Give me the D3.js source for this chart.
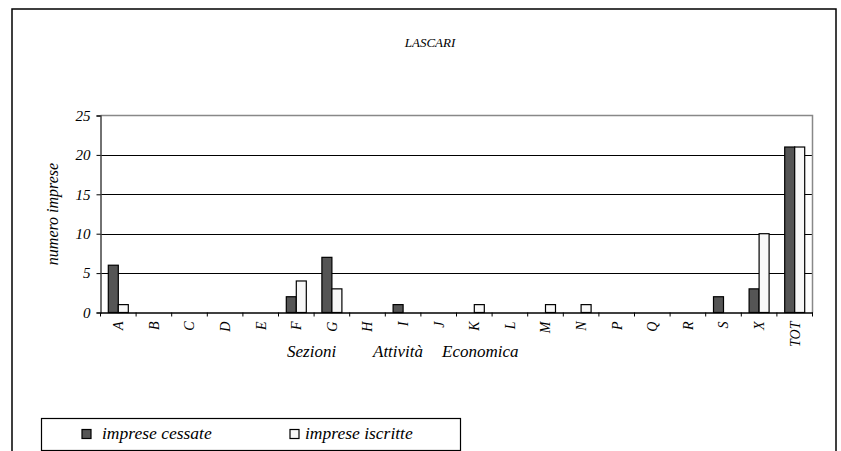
<!DOCTYPE html>
<html><head><meta charset="utf-8">
<script src="https://cdn.jsdelivr.net/npm/d3@7"></script>
<style>body{margin:0;background:#fff}svg{display:block}svg text{font-family:'Liberation Serif','Times New Roman',Times,serif;font-style:italic}</style>
</head><body><svg id="c" width="841" height="451"></svg>
<script>
const categories = ["A","B","C","D","E","F","G","H","I","J","K","L","M","N","P","Q","R","S","X","TOT"];
const cessate  = [6,0,0,0,0,2,7,0,1,0,0,0,0,0,0,0,0,2,3,21];
const iscritte = [1,0,0,0,0,4,3,0,0,0,1,0,1,1,0,0,0,0,10,21];
const seriesNames = ["imprese cessate","imprese iscritte"];
const seriesColors = ["#555555","#f8f8f8"];
const yTicks = [0,5,10,15,20,25];
const title = "LASCARI";
const yTitle = "numero imprese";
const xTitleParts = ["Sezioni","Attività","Economica"];

const FF = "'Liberation Serif','Times New Roman',serif";
const svg = d3.select("#c");
// outer frame
svg.append("rect").attr("x",12).attr("y",9).attr("width",824).attr("height",460)
  .attr("fill","none").attr("stroke","#000").attr("stroke-width",1.5);

const L=100.5, R=812.5, T=115.5, B=312.5;
const x = d3.scaleBand().domain(categories).range([L,R]).padding(0);
const xs = d3.scaleBand().domain(seriesNames).range([0,x.bandwidth()]).paddingInner(0).paddingOuter(0.78);
const y = d3.scaleLinear().domain([0,25]).range([B,T]);

// gridlines
svg.append("g").selectAll("line").data(yTicks.filter(t=>t>0&&t<25)).join("line")
  .attr("x1",L).attr("x2",R).attr("y1",d=>Math.round(y(d))+0.5).attr("y2",d=>Math.round(y(d))+0.5)
  .attr("stroke","#000").attr("stroke-width",1);
// plot top/right border
svg.append("path").attr("d",`M${L},${T}H${R}V${B}`).attr("fill","none").attr("stroke","#888").attr("stroke-width",1.5);

// bars
const data = categories.map((c,i)=>({c, vals:[cessate[i],iscritte[i]]}));
const g = svg.append("g");
data.forEach(d=>{
  d.vals.forEach((v,j)=>{
    if(v<=0) return;
    g.append("rect")
      .attr("x",x(d.c)+xs(seriesNames[j]))
      .attr("y",y(v))
      .attr("width",xs.bandwidth())
      .attr("height",y(0)-y(v))
      .attr("fill",seriesColors[j]).attr("stroke","#000").attr("stroke-width",1.2);
  });
});

// y axis
const ya = svg.append("g").attr("transform",`translate(${L},0)`)
  .call(d3.axisLeft(y).tickValues(yTicks).tickSize(4).tickPadding(6));
ya.attr("font-family",null);
ya.select(".domain").attr("stroke","#444").attr("stroke-width",1.5);
ya.selectAll(".tick line").attr("stroke","#000");
ya.selectAll(".tick text").attr("font-size",15).style("font-family",FF).style("font-style","italic").attr("fill","#000");

// x axis
const xa = svg.append("g").attr("transform",`translate(0,${B})`)
  .call(d3.axisBottom(x).tickSize(0).tickFormat(""));
xa.select(".domain").attr("stroke","#000").attr("stroke-width",1.5);
svg.append("g").selectAll("line").data(categories.concat(["_end"])).join("line")
  .attr("x1",(d,i)=> i<categories.length ? x(d) : R).attr("x2",(d,i)=> i<categories.length ? x(d) : R)
  .attr("y1",B).attr("y2",B+4).attr("stroke","#000").attr("stroke-width",1);
svg.append("g").selectAll("text").data(categories).join("text")
  .attr("transform",d=>`translate(${x(d)+x.bandwidth()/2},${B+9}) rotate(-90)`)
  .attr("text-anchor","end").attr("dy","0.35em").attr("font-size",14).style("font-family",FF).text(d=>d);

// titles
svg.append("text").attr("x",430).attr("y",47).attr("text-anchor","middle").attr("font-size",13).style("font-family",FF).text(title);
svg.append("text").attr("transform",`translate(58,${(T+B)/2}) rotate(-90)`).attr("text-anchor","middle")
  .attr("font-size",16).style("font-family",FF).text(yTitle);
const xt = svg.append("text").attr("y",357).attr("font-size",17).style("font-family",FF);
const xPos=[287,373,442];
xTitleParts.forEach((p,i)=>xt.append("tspan").attr("x",xPos[i]).text(p));

// legend
svg.append("rect").attr("x",41.5).attr("y",418.5).attr("width",419).attr("height",32)
  .attr("fill","#fff").attr("stroke","#000").attr("stroke-width",1.2);
const lx=[82,290], tx=[102,305];
seriesNames.forEach((n,i)=>{
  svg.append("rect").attr("x",lx[i]).attr("y",429.5).attr("width",9).attr("height",9)
    .attr("fill",seriesColors[i]).attr("stroke","#000").attr("stroke-width",1.2);
  svg.append("text").attr("x",tx[i]).attr("y",439).attr("font-size",17.5).style("font-family",FF).text(n);
});
</script></body></html>
